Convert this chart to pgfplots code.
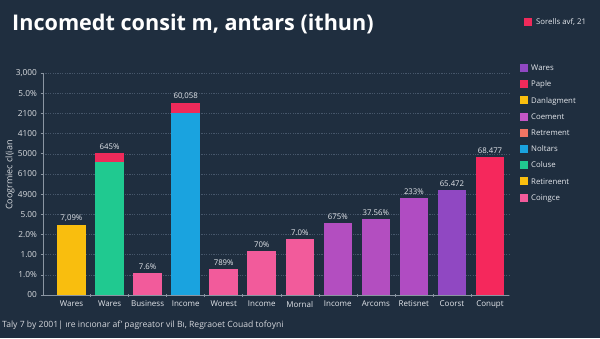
\documentclass[border=0pt]{standalone}
\usepackage{pgfplots}
\pgfplotsset{compat=1.18}
\usepackage{fontspec}
\setmainfont{Open Sans}
\definecolor{bg}{HTML}{1F2E3F}
\definecolor{axgray}{HTML}{8A95A2}
\definecolor{gridc}{HTML}{46566A}
\definecolor{txt}{HTML}{E4E7EC}
\definecolor{cyel}{HTML}{F9BE0E}
\definecolor{cgrn}{HTML}{20C990}
\definecolor{cpink}{HTML}{F25B9B}
\definecolor{cblue}{HTML}{1AA3DF}
\definecolor{cred}{HTML}{EF2A5A}
\definecolor{cmag}{HTML}{B34EC0}
\definecolor{cmag2}{HTML}{B04CC2}
\definecolor{cpur}{HTML}{9048C2}
\definecolor{cred2}{HTML}{F5285C}
\definecolor{csal}{HTML}{F07564}
\definecolor{cmagl}{HTML}{C456C6}
\begin{document}
\begin{tikzpicture}
\fill[bg] (0,0) rectangle (600pt,338pt);
\path[use as bounding box] (0,0) rectangle (600pt,338pt);
\node[anchor=west, text=white, font=\fontsize{21.6}{26}\selectfont\bfseries, inner sep=0pt] at (12pt,314pt) {Incomedt consit m, antars (ithun)};
\node[anchor=west, text=txt, font=\fontsize{7.8}{9}\selectfont, inner sep=0pt] at (524pt,316pt) {\textcolor{cred}{\rule[-1pt]{8pt}{8pt}}\hspace{4pt}Sorells avf, 21};
\node[anchor=west, text=txt!85!gray, font=\fontsize{8.6}{10}\selectfont, inner sep=0pt] at (2pt,13pt) {Taly 7 by 2001| ıre incıonar af' pagreator vil Bı, Regraoet Couad tofoyni};
\begin{axis}[
  at={(43pt,43pt)}, anchor=south west, scale only axis,
  width=466pt, height=222pt,
  xmin=-0.75, xmax=11.5, ymin=0, ymax=11,
  axis lines=left, axis line style={-, draw=axgray, line width=0.6pt},
  ytick={0,...,11},
  yticklabels={00,1.0\%,1.00,2.0\%,5.00,4900,6100,5000,4100,2100,5.0\%,{3,000}},
  xtick={0,...,11},
  xticklabels={Wares,Wares,Business,Income,Worest,Income,Mornal,Income,Arcoms,Retisnet,Coorst,Conupt},
  xtick style={draw=none},
  ytick style={draw=axgray, line width=0.5pt},
  major tick length=2.5pt, tick align=outside,
  extra x ticks={0.5,1.5,...,10.5},
  extra x tick labels={},
  extra x tick style={xtick style={draw=axgray, line width=0.5pt}, major tick length=3pt, tick align=center},
  ymajorgrids, grid style={draw=gridc, line width=0.4pt, dash pattern=on 1.2pt off 1.2pt},
  xticklabel style={font=\fontsize{8}{9}\selectfont, text=txt},
  yticklabel style={font=\fontsize{8.3}{9}\selectfont, text=txt!90!gray},
  /pgf/number format/assume math mode=true,
  ylabel={Coogrmiec cl(ian},
  every axis y label/.style={at={(axis description cs:-0.0708,0.54)}, rotate=90, anchor=center, font=\fontsize{9}{10}\selectfont, text=txt!90!gray},
  ybar, bar width=28.5pt, bar shift=0pt,
  every node near coord/.append style={font=\fontsize{7.8}{9}\selectfont, text=txt},
  legend style={at={(axis description cs:1.0236,1.046)}, anchor=north west, draw=none, fill=none, font=\fontsize{7.8}{9}\selectfont, text=txt, row sep=4.9pt, inner sep=0pt, column sep=1pt},
  legend cell align=left,
  legend image code/.code={\fill[#1, draw=none] (0pt,-3.5pt) rectangle (8pt,4.5pt);},
]
\addplot[fill=cyel, draw=none, forget plot, nodes near coords={7,09\%}] coordinates {(0,3.45)};
\addplot[fill=cred, draw=none, forget plot, nodes near coords={645\%}] coordinates {(1,7.02)};
\addplot[fill=cgrn, draw=none, forget plot] coordinates {(1,6.60)};
\addplot[fill=cpink, draw=none, forget plot, nodes near coords={7.6\%}] coordinates {(2,1.10)};
\addplot[fill=cred, draw=none, forget plot, nodes near coords={60,058}] coordinates {(3,9.49)};
\addplot[fill=cblue, draw=none, forget plot] coordinates {(3,9.02)};
\addplot[fill=cpink, draw=none, forget plot, nodes near coords={789\%}] coordinates {(4,1.29)};
\addplot[fill=cpink, draw=none, forget plot, nodes near coords={70\%}] coordinates {(5,2.18)};
\addplot[fill=cpink, draw=none, forget plot, nodes near coords={7.0\%}] coordinates {(6,2.76)};
\addplot[fill=cmag, draw=none, forget plot, nodes near coords={675\%}] coordinates {(7,3.55)};
\addplot[fill=cmag, draw=none, forget plot, nodes near coords={37.56\%}] coordinates {(8,3.78)};
\addplot[fill=cmag2, draw=none, forget plot, nodes near coords={233\%}] coordinates {(9,4.80)};
\addplot[fill=cpur, draw=none, forget plot, nodes near coords={65.472}] coordinates {(10,5.21)};
\addplot[fill=cred2, draw=none, forget plot, nodes near coords={68.477}] coordinates {(11,6.85)};
\addlegendimage{fill=cpur}\addlegendentry{Wares}
\addlegendimage{fill=cred}\addlegendentry{Paple}
\addlegendimage{fill=cyel}\addlegendentry{Danlagment}
\addlegendimage{fill=cmagl}\addlegendentry{Coement}
\addlegendimage{fill=csal}\addlegendentry{Retrement}
\addlegendimage{fill=cblue}\addlegendentry{Noltars}
\addlegendimage{fill=cgrn}\addlegendentry{Coluse}
\addlegendimage{fill=cyel}\addlegendentry{Retirenent}
\addlegendimage{fill=cpink}\addlegendentry{Coingce}
\end{axis}
\end{tikzpicture}
\end{document}
